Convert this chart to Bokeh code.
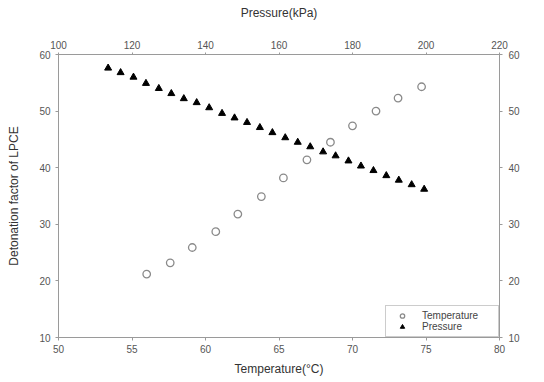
from bokeh.plotting import figure
from bokeh.models import Range1d, LinearAxis, FixedTicker, Legend, LegendItem
from bokeh.embed import file_html
from bokeh.resources import INLINE

# ---- data ----
temperature_c = [56.0, 57.6, 59.1, 60.7, 62.2, 63.8, 65.3, 66.9, 68.5, 70.0, 71.6, 73.1, 74.7]
temperature_factor = [21.2, 23.2, 25.9, 28.7, 31.8, 34.9, 38.2, 41.4, 44.5, 47.4, 50.0, 52.3, 54.3]

pressure_kpa = [113.5, 116.9, 120.4, 123.8, 127.3, 130.7, 134.1, 137.6, 141.0, 144.5,
                147.9, 151.3, 154.8, 158.2, 161.7, 165.1, 168.5, 172.0, 175.4, 178.9,
                182.3, 185.7, 189.2, 192.6, 196.1, 199.5]
pressure_factor = [57.6, 56.8, 56.0, 54.9, 54.0, 53.1, 52.2, 51.5, 50.6, 49.6,
                   48.8, 48.0, 47.1, 46.2, 45.3, 44.5, 43.7, 42.8, 42.1, 41.2,
                   40.3, 39.5, 38.6, 37.8, 37.0, 36.2]

temp_ticks = [50, 55, 60, 65, 70, 75, 80]
pressure_ticks = [100, 120, 140, 160, 180, 200, 220]
factor_ticks = [10, 20, 30, 40, 50, 60]

FONT = "Liberation Sans"
AXIS_COLOR = "#9a9a9a"
TICK_LABEL_COLOR = "#555555"

p = figure(width=544, height=382,
           x_range=Range1d(50, 80), y_range=Range1d(10, 60),
           output_backend="svg", toolbar_location=None,
           min_border_left=58, min_border_right=45,
           min_border_top=54, min_border_bottom=45)
p.extra_x_ranges = {"pressure": Range1d(100, 220)}
p.extra_y_ranges = {"right": Range1d(10, 60)}

p.grid.visible = False
p.outline_line_color = "#b0b0b0"
p.background_fill_color = "white"
p.border_fill_color = "white"

bottom_axis = p.below[0]
left_axis = p.left[0]

top_axis = LinearAxis(x_range_name="pressure", axis_label="Pressure(kPa)")
p.add_layout(top_axis, "above")
right_axis = LinearAxis(y_range_name="right")
p.add_layout(right_axis, "right")

bottom_axis.ticker = FixedTicker(ticks=temp_ticks)
bottom_axis.axis_label = "Temperature(°C)"
top_axis.ticker = FixedTicker(ticks=pressure_ticks)
left_axis.ticker = FixedTicker(ticks=factor_ticks)
left_axis.axis_label = "Detonation factor of LPCE"
right_axis.ticker = FixedTicker(ticks=factor_ticks)

for ax in [bottom_axis, top_axis, left_axis, right_axis]:
    ax.axis_line_color = AXIS_COLOR
    ax.major_tick_line_color = AXIS_COLOR
    ax.minor_tick_line_color = None
    ax.major_tick_in = 0
    ax.major_tick_out = 3
    ax.major_label_text_font = FONT
    ax.major_label_text_font_size = "10px"
    ax.major_label_text_color = TICK_LABEL_COLOR
    ax.axis_label_text_font = FONT
    ax.axis_label_text_font_size = "12px"
    ax.axis_label_text_font_style = "normal"
    ax.axis_label_text_color = "#333333"

bottom_axis.major_label_standoff = 4
bottom_axis.axis_label_standoff = 6
top_axis.major_tick_out = 2
top_axis.major_label_standoff = 4
top_axis.axis_label_standoff = 18
left_axis.major_label_standoff = 5
left_axis.axis_label_standoff = 15
right_axis.major_label_standoff = 6

r_temp = p.scatter(temperature_c, temperature_factor, marker="circle", size=7.5,
                   fill_color="white", line_color="#8a8a8a", line_width=1.3)
r_pres = p.scatter(pressure_kpa, pressure_factor, marker="triangle", size=7,
                   fill_color="black", line_color="black", x_range_name="pressure")

legend = Legend(items=[LegendItem(label="Temperature", renderers=[r_temp]),
                       LegendItem(label="Pressure", renderers=[r_pres])],
                location="bottom_right")
legend.margin = 0
legend.padding = 4
legend.spacing = 0
legend.glyph_width = 24
legend.glyph_height = 11
legend.label_height = 11
legend.label_width = 72
legend.label_standoff = 8
legend.label_text_font = FONT
legend.label_text_font_size = "10px"
legend.label_text_color = "#444444"
legend.border_line_color = "#9a9a9a"
legend.border_line_width = 1
legend.background_fill_color = "white"
legend.background_fill_alpha = 1.0
p.add_layout(legend, "center")

open("out.html", "w").write(file_html(p, INLINE))
